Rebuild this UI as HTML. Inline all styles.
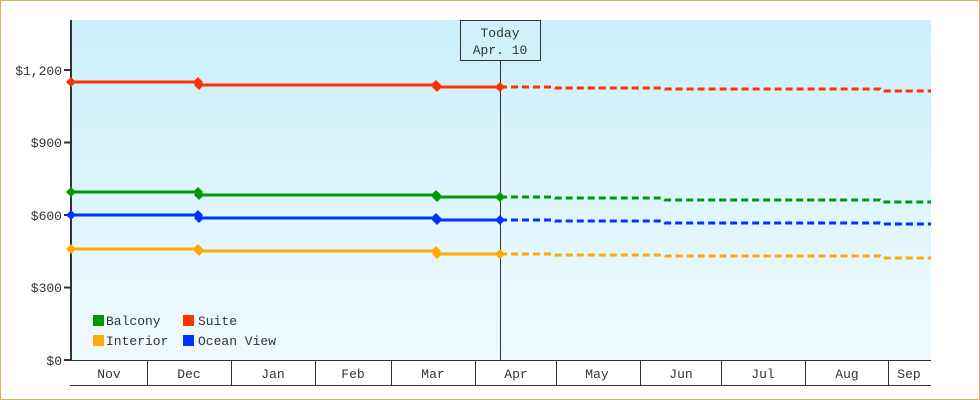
<!DOCTYPE html>
<html><head><style>
body{margin:0;background:#fff}
svg{display:block}
text{font-family:"Liberation Mono","DejaVu Sans Mono",monospace;font-size:13px;fill:#333}
</style></head><body>
<svg width="980" height="400" xmlns="http://www.w3.org/2000/svg">
<defs><linearGradient id="g" x1="0" y1="0" x2="0" y2="1"><stop offset="0" stop-color="#cbeffc"/><stop offset="1" stop-color="#f0faff"/></linearGradient></defs>
<rect x="0.5" y="0.5" width="979" height="399" fill="#fff" stroke="#eaa860"/>
<rect x="71" y="20" width="860" height="340" fill="url(#g)"/>
<line x1="71" y1="20" x2="71" y2="361" stroke="#333" stroke-width="2"/>
<g stroke="#333" stroke-width="2">
<line x1="64" y1="360" x2="71" y2="360"/><line x1="64" y1="287.5" x2="71" y2="287.5"/><line x1="64" y1="215" x2="71" y2="215"/><line x1="64" y1="142.5" x2="71" y2="142.5"/><line x1="64" y1="70" x2="71" y2="70"/></g>
<g text-anchor="end"><text x="62" y="365">$0</text><text x="62" y="292">$300</text><text x="62" y="220">$600</text><text x="62" y="147">$900</text><text x="62" y="75">$1,200</text></g>
<line x1="70" y1="360.5" x2="931" y2="360.5" stroke="#333"/>
<line x1="70" y1="385.5" x2="931" y2="385.5" stroke="#333"/>
<g stroke="#333"><line x1="147.5" y1="360" x2="147.5" y2="385"/><line x1="231.5" y1="360" x2="231.5" y2="385"/><line x1="315.5" y1="360" x2="315.5" y2="385"/><line x1="391.5" y1="360" x2="391.5" y2="385"/><line x1="475.5" y1="360" x2="475.5" y2="385"/><line x1="556.5" y1="360" x2="556.5" y2="385"/><line x1="640.5" y1="360" x2="640.5" y2="385"/><line x1="721.5" y1="360" x2="721.5" y2="385"/><line x1="805.5" y1="360" x2="805.5" y2="385"/><line x1="888.5" y1="360" x2="888.5" y2="385"/></g>
<g text-anchor="middle"><text x="109" y="378">Nov</text><text x="189" y="378">Dec</text><text x="273" y="378">Jan</text><text x="353" y="378">Feb</text><text x="433" y="378">Mar</text><text x="516" y="378">Apr</text><text x="597" y="378">May</text><text x="681" y="378">Jun</text><text x="763" y="378">Jul</text><text x="847" y="378">Aug</text><text x="909" y="378">Sep</text></g>
<line x1="500.5" y1="60" x2="500.5" y2="360" stroke="#333"/>
<rect x="460.5" y="20.5" width="80" height="40" fill="#d0f0fc" stroke="#333"/>
<text x="500" y="37" text-anchor="middle">Today</text><text x="500" y="54" text-anchor="middle">Apr. 10</text>
<g fill="none" stroke-width="3">
<polyline stroke="#ff3300" points="71,82 198,82 199,85 436,85 437,87 500,87"/>
<polyline stroke="#ff3300" stroke-dasharray="7,4" points="500,87 553,87 555,88 662,88 665,89 880,89 882,91 931,91"/>
<polyline stroke="#009900" points="71,192 198,192 199,195 436,195 437,197 500,197"/>
<polyline stroke="#009900" stroke-dasharray="7,4" points="500,197 553,197 555,198 662,198 665,200 880,200 882,202 931,202"/>
<polyline stroke="#0033ff" points="71,215 198,215 199,218 436,218 437,220 500,220"/>
<polyline stroke="#0033ff" stroke-dasharray="7,4" points="500,220 553,220 555,221 662,221 665,223 880,223 882,224 931,224"/>
<polyline stroke="#ffaa00" points="71,249 198,249 199,251 436,251 437,254 500,254"/>
<polyline stroke="#ffaa00" stroke-dasharray="7,4" points="500,254 553,254 555,255 662,255 665,256 880,256 882,258 931,258"/>
</g>
<g>
<g fill="#ff3300"><path d="M71 77l5 5-5 5-5-5z"/><path d="M198 77l5 5-5 5-5-5z"/><path d="M199 80l5 5-5 5-5-5z"/><path d="M436 80l5 5-5 5-5-5z"/><path d="M437 82l5 5-5 5-5-5z"/><path d="M500 82l5 5-5 5-5-5z"/></g>
<g fill="#009900"><path d="M71 187l5 5-5 5-5-5z"/><path d="M198 187l5 5-5 5-5-5z"/><path d="M199 190l5 5-5 5-5-5z"/><path d="M436 190l5 5-5 5-5-5z"/><path d="M437 192l5 5-5 5-5-5z"/><path d="M500 192l5 5-5 5-5-5z"/></g>
<g fill="#0033ff"><path d="M71 210l5 5-5 5-5-5z"/><path d="M198 210l5 5-5 5-5-5z"/><path d="M199 213l5 5-5 5-5-5z"/><path d="M436 213l5 5-5 5-5-5z"/><path d="M437 215l5 5-5 5-5-5z"/><path d="M500 215l5 5-5 5-5-5z"/></g>
<g fill="#ffaa00"><path d="M71 244l5 5-5 5-5-5z"/><path d="M198 244l5 5-5 5-5-5z"/><path d="M199 246l5 5-5 5-5-5z"/><path d="M436 246l5 5-5 5-5-5z"/><path d="M437 249l5 5-5 5-5-5z"/><path d="M500 249l5 5-5 5-5-5z"/></g>
</g>
<rect x="93" y="315" width="11" height="11" fill="#009900"/><text x="106" y="325">Balcony</text>
<rect x="183" y="315" width="11" height="11" fill="#ff3300"/><text x="198" y="325">Suite</text>
<rect x="93" y="335" width="11" height="11" fill="#ffaa00"/><text x="106" y="345">Interior</text>
<rect x="183" y="335" width="11" height="11" fill="#0033ff"/><text x="198" y="345">Ocean View</text>
</svg>
</body></html>
